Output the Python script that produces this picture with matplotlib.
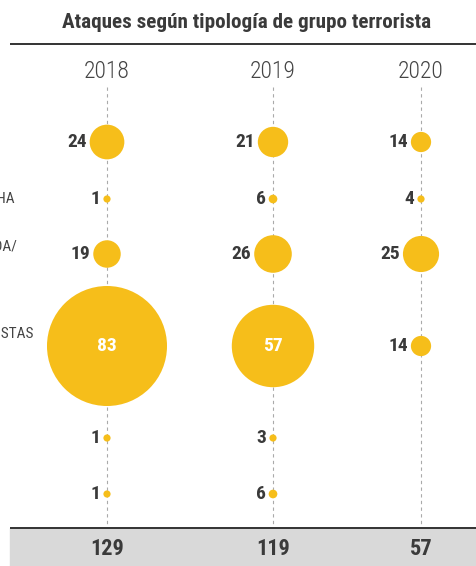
import matplotlib
matplotlib.use("Agg")
import matplotlib.pyplot as plt
from matplotlib.patches import Rectangle

plt.rcParams["font.family"] = ["Roboto Condensed", "Barlow Condensed", "Roboto", "DejaVu Sans"]

W, H, DPI = 477, 566, 100

years = ["2018", "2019", "2020"]
categories = ["YIHADISTA", "EXTREMA DERECHA", "EXTREMA IZQUIERDA/", "ETNONACIONALISTAS",
              "CAUSA ÚNICA", "NO ESPECIFICADO"]
attacks_2018 = [24, 1, 19, 83, 1, 1]
attacks_2019 = [21, 6, 26, 57, 3, 6]
attacks_2020 = [14, 4, 25, 14, None, None]
totals = [129, 119, 57]

# layout (pixels); the category labels are cropped by the left edge
col_x = [107, 273, 421]
row_y = [142, 199, 254, 346, 438, 494]
label_end = [-12, 15, 17, 34, -12, -12]
label_y = [142, 199, 246, 334, 438, 494]

YELLOW = "#F6BE1A"
DARK = "#3a3a3a"


def radius(v):
    return max(0.723 * v, 3.6)


fig = plt.figure(figsize=(W / DPI, H / DPI), dpi=DPI)
ax = fig.add_axes([0, 0, 1, 1])
ax.set_xlim(0, W)
ax.set_ylim(H, 0)
ax.axis("off")

fig.text(0.516, 1 - 22 / H, "Ataques según tipología de grupo terrorista",
         ha="center", va="center", fontsize=15.2, fontweight="bold", color=DARK)
ax.plot([10, W], [44, 44], color="#333333", lw=1.4, solid_capstyle="butt")

for yr, x in zip(years, col_x):
    ax.text(x, 72, yr, ha="center", va="center", fontsize=17, fontweight="light", color="#444444")
    ax.plot([x, x], [87, 527], color="#aaaaaa", lw=0.8, ls=(0, (3, 3)), zorder=1)

for lab, xe, y in zip(categories, label_end, label_y):
    ax.text(xe, y, lab, ha="right", va="center", fontsize=11, color="#444444")

for x, vals in zip(col_x, [attacks_2018, attacks_2019, attacks_2020]):
    for y, v in zip(row_y, vals):
        if v is None:
            continue
        r = radius(v)
        d_pt = 2 * r * 72 / DPI
        ax.scatter([x], [y], s=d_pt ** 2, color=YELLOW, edgecolors="none", zorder=3)
        if v > 50:
            ax.text(x, y, str(v), ha="center", va="center", fontsize=14,
                    fontweight="bold", color="white", zorder=4)
        else:
            ax.text(x - r - 3, y, str(v), ha="right", va="center", fontsize=14,
                    fontweight="bold", color=DARK, zorder=4)

# totals band
ax.add_patch(Rectangle((10, 528), W - 10, H - 528, color="#d9d9d9", zorder=0))
ax.plot([10, W], [527.5, 527.5], color="#333333", lw=1.4, solid_capstyle="butt", zorder=2)
for x, t in zip(col_x, totals):
    ax.text(x, 549, str(t), ha="center", va="center", fontsize=16, fontweight="bold", color=DARK)

fig.savefig("out.png", dpi=DPI)
